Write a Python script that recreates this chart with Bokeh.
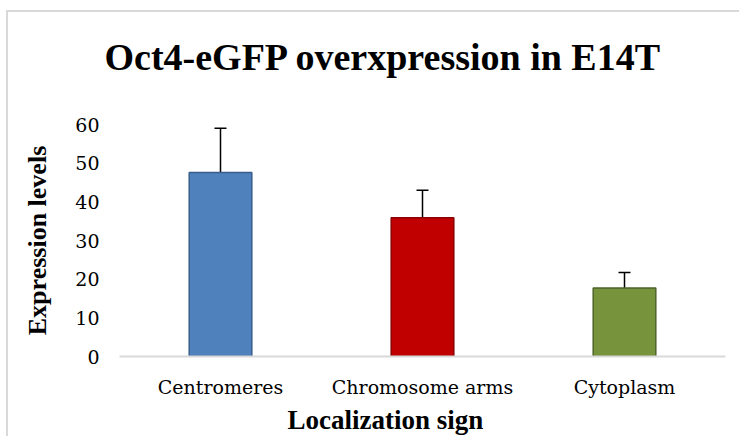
from bokeh.plotting import figure
from bokeh.models import ColumnDataSource, FactorRange, Range1d, FixedTicker, Whisker, TeeHead, Title
from bokeh.embed import file_html
from bokeh.resources import INLINE

categories = ["Centromeres", "Chromosome arms", "Cytoplasm"]
values = [47.6, 35.9, 17.7]
errors = [11.4, 7.1, 4.0]
y_ticks = [0, 10, 20, 30, 40, 50, 60]
fill_colors = ["#4F81BD", "#C00000", "#77933C"]
line_colors = ["#385D8A", "#8C0000", "#4F6228"]
title_text = "Oct4-eGFP overxpression in E14T"
x_title = "Localization sign"
y_title = "Expression levels"

upper = [v + e for v, e in zip(values, errors)]
src = ColumnDataSource(dict(cat=categories, val=values, upper=upper,
                            fill=fill_colors, line=line_colors))

W, H = 733, 426
p = figure(x_range=FactorRange(factors=categories, range_padding=0),
           y_range=Range1d(0, 60), width=W, height=H,
           output_backend="svg", toolbar_location=None,
           min_border_left=111, min_border_right=16,
           min_border_top=112, min_border_bottom=82)
p.styles = {"border-left": "2px solid #d9d9d9", "border-top": "2px solid #d9d9d9",
            "margin-top": "10px", "margin-left": "6px"}
p.outline_line_color = None
p.xgrid.grid_line_color = None
p.ygrid.grid_line_color = None
p.background_fill_color = "white"
p.border_fill_color = "white"

p.vbar(x="cat", top="val", bottom=0, width=0.31, fill_color="fill",
       line_color="line", line_width=1.5, source=src)

wh = Whisker(source=src, base="cat", lower="val", upper="upper",
             line_color="black", line_width=1.5, lower_head=None,
             upper_head=TeeHead(size=12, line_color="black", line_width=1.5))
p.add_layout(wh)

font = "Liberation Serif"
tick_font = "DejaVu Serif"
xa = p.xaxis[0]
xa.axis_line_color = "#d9d9d9"
xa.axis_line_width = 2
xa.major_tick_line_color = None
xa.minor_tick_line_color = None
xa.major_label_text_font = tick_font
xa.major_label_text_font_size = "19px"
xa.major_label_text_color = "black"
xa.major_label_standoff = 13

ya = p.yaxis[0]
ya.ticker = FixedTicker(ticks=y_ticks)
ya.axis_line_color = None
ya.major_tick_line_color = None
ya.minor_tick_line_color = None
ya.major_label_text_font = tick_font
ya.major_label_text_font_size = "19px"
ya.major_label_text_color = "black"
ya.major_label_standoff = 14
ya.axis_label = y_title
ya.axis_label_text_font = font
ya.axis_label_text_font_style = "bold"
ya.axis_label_text_font_size = "26px"
ya.axis_label_text_color = "black"
ya.axis_label_standoff = 20

# spacer between title and plot frame (first item in "above" sits nearest the frame)
p.add_layout(Title(text=" ", text_font_size="16px", standoff=9), "above")
p.add_layout(Title(text=title_text, text_font=font, text_font_style="bold",
                   text_font_size="38px", text_color="black", align="left",
                   offset=-15, vertical_align="bottom", standoff=38), "above")
p.add_layout(Title(text=x_title, text_font=font, text_font_style="bold",
                   text_font_size="27px", text_color="black", align="left",
                   offset=168, vertical_align="bottom", standoff=5), "below")

open("out.html", "w").write(file_html(p, INLINE))
